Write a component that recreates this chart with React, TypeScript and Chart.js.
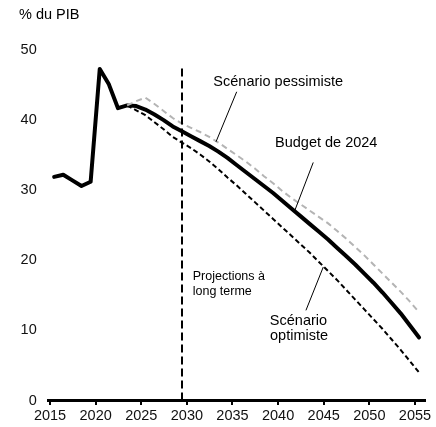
import React, { useEffect, useRef } from "react";
import { Chart, registerables } from "chart.js";

Chart.register(...registerables);

// ---- Data ----
const budgetYears = [
  2015, 2016, 2017, 2018, 2019, 2020, 2021, 2022, 2023, 2024,
  2025, 2026, 2027, 2028, 2029, 2030, 2031, 2032, 2033, 2034,
  2035, 2036, 2037, 2038, 2039, 2040, 2041, 2042, 2043, 2044,
  2045, 2046, 2047, 2048, 2049, 2050, 2051, 2052, 2053, 2054, 2055,
];
const budget2024 = [
  31.9, 32.2, 31.4, 30.6, 31.2, 47.3, 45.1, 41.7, 42.1, 42.0,
  41.5, 40.8, 40.0, 39.1, 38.4, 37.7, 37.0, 36.3, 35.5, 34.6,
  33.6, 32.6, 31.6, 30.6, 29.6, 28.5, 27.4, 26.3, 25.2, 24.1,
  23.0, 21.8, 20.6, 19.4, 18.1, 16.8, 15.4, 13.9, 12.4, 10.7, 9.0,
];
const scenarioYears = [
  2023, 2024, 2025, 2026, 2027, 2028, 2029, 2030, 2031, 2032,
  2033, 2034, 2035, 2036, 2037, 2038, 2039, 2040, 2041, 2042,
  2043, 2044, 2045, 2046, 2047, 2048, 2049, 2050, 2051, 2052,
  2053, 2054, 2055,
];
const pessimiste = [
  42.1, 42.7, 43.2, 42.3, 41.3, 40.3, 39.5, 38.9, 38.3, 37.6,
  36.8, 35.9, 35.0, 34.1, 33.1, 32.0, 31.0, 29.9, 28.9, 28.0,
  27.1, 26.2, 25.3, 24.2, 23.1, 21.9, 20.7, 19.4, 18.1, 16.8,
  15.5, 14.1, 12.6,
];
const optimiste = [
  42.1, 41.4, 40.7, 39.7, 38.7, 37.6, 36.8, 36.0, 35.1, 34.1,
  33.0, 31.8, 30.7, 29.5, 28.3, 27.1, 25.9, 24.7, 23.5, 22.3,
  21.1, 19.8, 18.5, 17.2, 15.8, 14.4, 13.0, 11.6, 10.2, 8.7,
  7.2, 5.6, 4.0,
];
// fiscal-year points sit a little right of the calendar tick
const YEAR_SHIFT = 0.45;

const xTickValues = [2015, 2020, 2025, 2030, 2035, 2040, 2045, 2050, 2055];
const yTickValues = [0, 10, 20, 30, 40, 50];
const X_MIN = 2014.81;
const X_MAX = 2056.1;
const Y_MIN = 0;
const Y_MAX = 50;

const projectionStartX = 2029.465;
const projectionLineTop = 47.4;

const FONT = "'Liberation Sans', Arial, Helvetica, sans-serif";

type Label = { text: string; x: number; y: number; align: CanvasTextAlign; size: number };
const labels: Label[] = [
  { text: "Scénario pessimiste", x: 2032.9, y: 45.47, align: "left", size: 14.5 },
  { text: "Budget de 2024", x: 2039.66, y: 36.67, align: "left", size: 14.5 },
  { text: "Projections à", x: 2030.64, y: 17.71, align: "left", size: 12.5 },
  { text: "long terme", x: 2030.64, y: 15.61, align: "left", size: 12.5 },
  { text: "Scénario", x: 2042.23, y: 11.33, align: "center", size: 14.5 },
  { text: "optimiste", x: 2042.29, y: 9.14, align: "center", size: 14.5 },
];
const leaders = [
  { x1: 2035.46, y1: 44.04, x2: 2033.19, y2: 36.9 },
  { x1: 2043.85, y1: 33.96, x2: 2041.77, y2: 26.9 },
  { x1: 2043.05, y1: 12.86, x2: 2044.95, y2: 19.04 },
];

const toPoints = (years: number[], vals: number[]) =>
  years.map((yr, i) => ({ x: yr + YEAR_SHIFT, y: vals[i] }));

const annotationPlugin = {
  id: "annotations",
  afterDraw(chart: any) {
    const { ctx, scales, chartArea } = chart;
    const xs = scales.x;
    const ys = scales.y;
    ctx.save();
    ctx.fillStyle = "#000";
    ctx.textBaseline = "middle";
    ctx.textAlign = "left";
    ctx.font = `14.5px ${FONT}`;
    ctx.fillText("% du PIB", chartArea.left - 29.3, chartArea.top - 35);
    for (const l of labels) {
      ctx.font = `${l.size}px ${FONT}`;
      ctx.textAlign = l.align;
      ctx.fillText(l.text, xs.getPixelForValue(l.x), ys.getPixelForValue(l.y));
    }
    ctx.strokeStyle = "#000";
    ctx.lineWidth = 1;
    for (const ld of leaders) {
      ctx.beginPath();
      ctx.moveTo(xs.getPixelForValue(ld.x1), ys.getPixelForValue(ld.y1));
      ctx.lineTo(xs.getPixelForValue(ld.x2), ys.getPixelForValue(ld.y2));
      ctx.stroke();
    }
    ctx.restore();
  },
};

export default function App() {
  const canvasRef = useRef<HTMLCanvasElement | null>(null);

  useEffect(() => {
    if (!canvasRef.current) return;
    const chart = new Chart(canvasRef.current, {
      type: "line",
      data: {
        datasets: [
          {
            label: "Projections",
            data: [
              { x: projectionStartX, y: 0 },
              { x: projectionStartX, y: projectionLineTop },
            ],
            borderColor: "#000",
            borderWidth: 2,
            borderDash: [8, 4],
            pointRadius: 0,
          },
          {
            label: "Scénario pessimiste",
            data: toPoints(scenarioYears, pessimiste),
            borderColor: "#b4b4b4",
            borderWidth: 2,
            borderDash: [6, 4],
            pointRadius: 0,
          },
          {
            label: "Scénario optimiste",
            data: toPoints(scenarioYears, optimiste),
            borderColor: "#000",
            borderWidth: 2,
            borderDash: [5, 3],
            pointRadius: 0,
          },
          {
            label: "Budget de 2024",
            data: toPoints(budgetYears, budget2024),
            borderColor: "#000",
            borderWidth: 4,
            borderJoinStyle: "round",
            borderCapStyle: "round",
            pointRadius: 0,
          },
        ],
      },
      options: {
        animation: false,
        responsive: false,
        devicePixelRatio: 1,
        parsing: false,
        layout: { padding: { left: 0, top: 50, right: 11, bottom: 0 } },
        plugins: { legend: { display: false }, tooltip: { enabled: false } },
        elements: { line: { tension: 0 } },
        scales: {
          x: {
            type: "linear",
            min: X_MIN,
            max: X_MAX,
            afterBuildTicks: (s: any) => {
              s.ticks = xTickValues.map((v) => ({ value: v }));
            },
            afterFit: (s: any) => {
              s.height = 26.5;
              s.paddingLeft = 0;
              s.paddingRight = 0;
            },
            grid: {
              display: true,
              drawOnChartArea: false,
              drawTicks: true,
              tickLength: 4.5,
              color: "#000",
              lineWidth: 2,
            },
            border: { display: true, color: "#000", width: 3 },
            ticks: {
              autoSkip: false,
              maxRotation: 0,
              padding: 2,
              color: "#111",
              font: { family: FONT, size: 14.5 },
              callback: (v: any) => String(v),
            },
          },
          y: {
            type: "linear",
            min: Y_MIN,
            max: Y_MAX,
            afterBuildTicks: (s: any) => {
              s.ticks = yTickValues.map((v) => ({ value: v }));
            },
            afterFit: (s: any) => {
              s.width = 48.3;
            },
            grid: { display: false, drawTicks: false },
            border: { display: false },
            ticks: {
              padding: 11.6,
              color: "#111",
              font: { family: FONT, size: 14.5 },
              callback: (v: any) => String(v),
            },
          },
        },
      },
      plugins: [annotationPlugin],
    } as any);
    return () => chart.destroy();
  }, []);

  return (
    <div style={{ position: "absolute", left: 0, top: 0, width: 436, height: 427, background: "#fff" }}>
      <canvas ref={canvasRef} width={436} height={427} style={{ display: "block" }} />
    </div>
  );
}
